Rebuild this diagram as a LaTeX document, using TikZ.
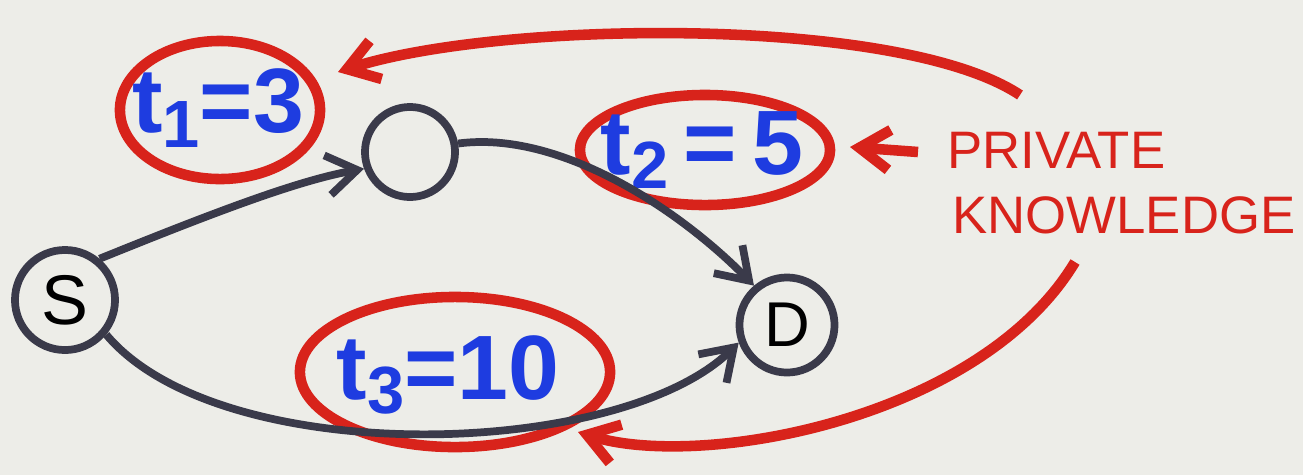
\documentclass[tikz,border=0pt]{standalone}
\usepackage{fontspec}
\setmainfont{Liberation Sans}
\usetikzlibrary{arrows.meta,shapes.geometric}
\definecolor{bg}{HTML}{EDEDE8}
\definecolor{hred}{HTML}{D8231B}
\definecolor{hblue}{HTML}{1E3CE0}
\definecolor{hink}{HTML}{3A3A4A}
\newcommand{\lsub}[1]{\raisebox{-0.3ex}{\fontsize{19}{19}\selectfont #1}}
\tikzset{
  vert/.style={circle,draw=hink,line width=2.2pt,inner sep=0pt,minimum size=#1},
  oval/.style={ellipse,draw=hred,line width=3pt,inner sep=0pt},
  lab/.style={text=hblue,font=\bfseries\fontsize{26}{26}\selectfont},
  redtxt/.style={text=hred,font=\fontsize{15}{15}\selectfont},
  blk/.style={draw=hink,line width=2.2pt,-{Straight Barb[length=3mm,width=4mm]}},
  rarr/.style={draw=hred,line width=3pt,-{Straight Barb[length=3mm,width=4mm]}},
}
\begin{document}
\begin{tikzpicture}[x=0.01cm,y=-0.01cm]
\fill[bg] (0,0) rectangle (1303,475);
\useasboundingbox (0,0) rectangle (1303,475);
% vertices
\node[vert=1cm] (S) at (65,300) {\fontsize{20}{20}\selectfont S};
\node[vert=0.9cm] (M) at (410,152) {};
\node[vert=0.95cm] (D) at (787,325) {\fontsize{18}{18}\selectfont D};
% ovals
\node[oval,minimum width=2cm,minimum height=1.38cm] (E1) at (220,110) {};
\node[lab] (L1) at (218,108) {t\lsub{1}=3};
\node[oval,minimum width=2.5cm,minimum height=1.1cm] (E2) at (705,150) {};
\node[lab] (L2) at (702,150) {t\lsub{2}\,=\,5};
\node[oval,minimum width=3.1cm,minimum height=1.5cm] (E3) at (455,372) {};
\node[lab] (L3) at (448,375) {t\lsub{3}=10};
% red text
\node[redtxt,anchor=west] (P) at (935,150) {PRIVATE};
\node[redtxt,anchor=west] (K) at (940,215) {KNOWLEDGE};
% coordinates
\coordinate (a1s) at (1020,95);
\coordinate (a1e) at (338,72);
\coordinate (a2s) at (918,152);
\coordinate (a2e) at (850,147);
\coordinate (a3s) at (1075,262);
\coordinate (a3e) at (578,432);
% red arrows
\draw[rarr] (a1s) .. controls (900,15) and (500,20) .. (a1e);
\draw[rarr] (a2s) -- (a2e);
\draw[rarr] (a3s) .. controls (980,420) and (700,470) .. (a3e);
% black edges
\draw[blk] (S.50) .. controls (220,210) and (300,180) .. (M.200);
\draw[blk] (M.10) .. controls (560,130) and (680,210) .. (D.130);
\draw[blk] (S.-40) .. controls (220,470) and (620,460) .. (D.200);
\end{tikzpicture}
\end{document}
